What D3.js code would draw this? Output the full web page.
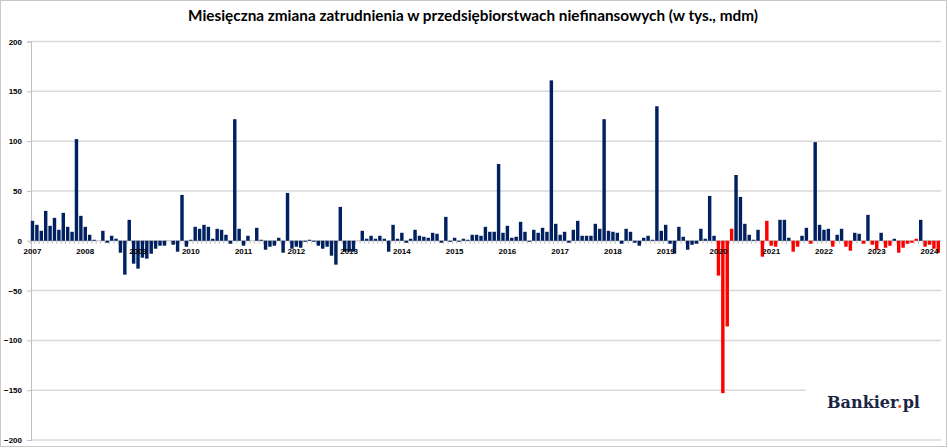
<!DOCTYPE html>
<meta charset="utf-8">
<title>Miesięczna zmiana zatrudnienia</title>
<style>
  body { margin: 0; background: #fff; }
  svg { display: block; }
</style>
<body>
<div id="chart"></div>
<script src="https://d3js.org/d3.v7.min.js"></script>
<script>

// monthly change, thousands, one bar per month (first bar sits under the 2007 label)
var values = [
  20, 16, 10, 30, 15, 23, 11, 28, 14, 9, 102, 25,
  14, 6, 1, 0, 10, -2, 5, 2, -12, -34, 21, -23,
  -28, -17, -18, -13, -8, -5, -5, 0, -4, -11, 46, -6,
  1, 14, 12, 16, 14, 2, 12, 11, 6, -3, 122, 12,
  -5, 5, 0, 13, 1, -9, -6, -5, 3, -12, 48, -8,
  -6, -7, -1, 1, -1, -5, -8, -6, -15, -24, 34, -11,
  -11, -11, 0, 10, 2, 5, 2, 5, 2, -11, 16, 2,
  8, -2, 2, 11, 5, 4, 3, 8, 7, -2, 24, -1,
  3, -1, 2, 1, 6, 6, 5, 14, 9, 9, 77, 8,
  15, 3, 4, 19, 9, -1, 11, 8, 13, 9, 161, 17,
  6, 9, -2, 11, 20, 5, 5, 5, 17, 12, 122, 10,
  9, 8, -3, 12, 9, -2, -5, 3, 5, 1, 135, 10,
  16, -3, -13, 14, 4, -9, -4, -3, 12, 2, 45, 5,
  -35, -153, -86, 12, 66, 44, 17, 6, 1, 11, -16, 20,
  -5, -6, 21, 21, 3, -11, -6, 5, 13, -3, 99, 16,
  11, 12, -6, 6, 12, -6, -10, 8, 7, -3, 26, -4,
  -9, 8, -7, -5, 2, -12, -7, -3, -2, 2, 21, -6,
  -4, -8, -12
];

// bars drawn in red
var redBars = [156, 157, 158, 159, 166, 167, 168, 169, 173, 174, 177,
  182, 185, 186, 189, 191, 192, 194, 195, 197, 198, 199, 200, 201,
  203, 204, 205, 206];

var years = [2007, 2008, 2009, 2010, 2011, 2012, 2013, 2014, 2015,
  2016, 2017, 2018, 2019, 2020, 2021, 2022, 2023, 2024];

var yTicks = [200, 150, 100, 50, 0, -50, -100, -150, -200];

var title = "Miesięczna zmiana zatrudnienia w przedsiębiorstwach niefinansowych (w tys., mdm)";

var width = 948, height = 448;
var navy = "#002060", red = "#ff0000", grid = "#d9d9d9";

var svg = d3.select("#chart").append("svg")
    .attr("width", width)
    .attr("height", height);

// outer frame
svg.append("rect")
    .attr("x", 0.5).attr("y", 0.5)
    .attr("width", 946).attr("height", 446)
    .attr("fill", "#fff")
    .attr("stroke", "#c8c8c8");

var x = d3.scaleBand()
    .domain(d3.range(values.length))
    .range([30.3, 940.5])
    .paddingInner(0.22)
    .paddingOuter(0.11);

var y = d3.scaleLinear()
    .domain([-200, 200])
    .range([440, 41.5]);

// gridlines
svg.append("g")
  .selectAll("line")
  .data(yTicks.filter(function(d) { return d !== 0; }))
  .enter().append("line")
    .attr("x1", 31).attr("x2", 941)
    .attr("y1", function(d) { return y(d); })
    .attr("y2", function(d) { return y(d); })
    .attr("stroke", grid)
    .attr("stroke-width", 1.5);

// y axis
var yAxis = svg.append("g")
    .attr("transform", "translate(31,0)")
    .call(d3.axisLeft(y).tickValues(yTicks).tickSize(4).tickPadding(5));
yAxis.select(".domain").attr("stroke", "#bfbfbf");
yAxis.selectAll(".tick line").attr("stroke", "#bfbfbf");
yAxis.selectAll("text")
    .attr("font-family", "Liberation Sans, Arial, sans-serif")
    .attr("font-weight", "bold")
    .attr("font-size", 8)
    .attr("fill", "#000");

// zero line with a small tick between months
var y0 = y(0);
var gap = x.step() * x.paddingInner() / 2;
svg.append("line")
    .attr("x1", 31).attr("x2", 941)
    .attr("y1", y0).attr("y2", y0)
    .attr("stroke", "#bfbfbf");
svg.append("g")
  .selectAll("line")
  .data(d3.range(values.length))
  .enter().append("line")
    .attr("x1", function(i) { return x(i) - gap; })
    .attr("x2", function(i) { return x(i) - gap; })
    .attr("y1", y0).attr("y2", y0 + 3)
    .attr("stroke", "#bfbfbf");

// bars
svg.append("g")
  .selectAll("rect")
  .data(values)
  .enter().append("rect")
    .attr("x", function(d, i) { return x(i); })
    .attr("width", x.bandwidth())
    .attr("y", function(d) { return y(Math.max(0, d)); })
    .attr("height", function(d) { return Math.abs(y(d) - y0); })
    .attr("fill", function(d, i) { return redBars.indexOf(i) >= 0 ? red : navy; });

// year labels on the zero line
var xAxis = svg.append("g")
    .attr("transform", "translate(0," + y0 + ")")
    .call(d3.axisBottom(x)
      .tickValues(years.map(function(d, k) { return k * 12; }))
      .tickFormat(function(i) { return years[i / 12]; })
      .tickSize(0)
      .tickPadding(8));
xAxis.select(".domain").remove();
xAxis.selectAll("text")
    .attr("font-family", "Liberation Sans, Arial, sans-serif")
    .attr("font-weight", "bold")
    .attr("font-size", 8)
    .attr("fill", "#000");

// title
var t = svg.append("text")
    .attr("x", 473).attr("y", 21)
    .attr("text-anchor", "middle")
    .attr("font-family", "Lato, sans-serif")
    .attr("font-weight", "bold")
    .attr("font-size", 15)
    .attr("fill", "#000")
    .text(title);
var tw = t.node().getComputedTextLength();
t.attr("font-size", 15 * 570 / tw);

// watermark
svg.append("rect")
    .attr("x", 806).attr("y", 372)
    .attr("width", 139).attr("height", 58)
    .attr("fill", "#fff");
var logo = svg.append("text")
    .attr("x", 827).attr("y", 408)
    .attr("font-family", "DejaVu Serif, serif")
    .attr("font-weight", "bold")
    .attr("font-size", 14)
    .attr("fill", "#1b2443");
logo.append("tspan").text("Bankier");
logo.append("tspan").attr("fill", "#e8552a").text(".");
logo.append("tspan").text("pl");
var lw = logo.node().getComputedTextLength();
logo.attr("font-size", 14 * 93 / lw);

</script>
</body>
